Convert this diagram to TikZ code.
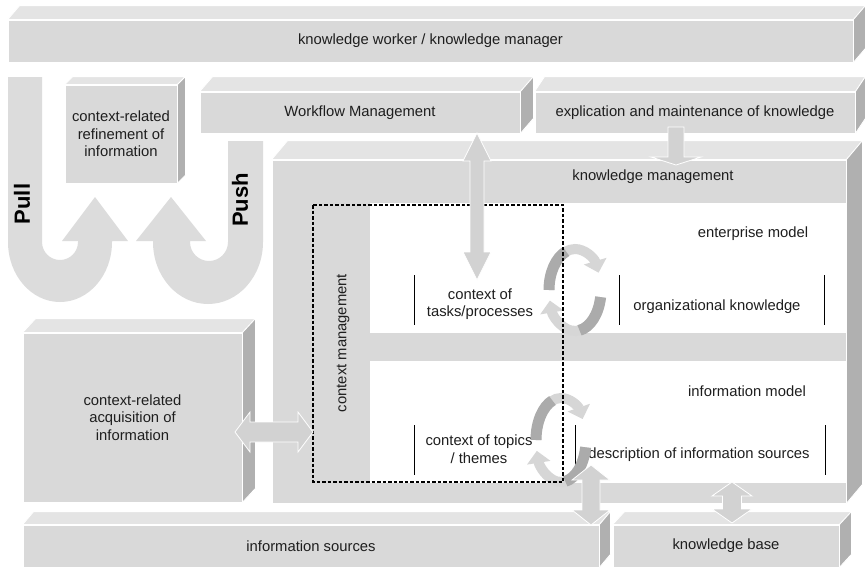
\documentclass[tikz,border=0pt]{standalone}
\usepackage{fontspec}
\setmainfont{Liberation Sans}
\usetikzlibrary{calc,arrows.meta}

\definecolor{facegray}{HTML}{D9D9D9}
\definecolor{topgray}{HTML}{E4E4E4}
\definecolor{sidegray}{HTML}{B0B0B0}
\definecolor{arrowgray}{HTML}{D2D2D2}
\definecolor{ugray}{HTML}{DCDCDC}
\definecolor{cycdark}{HTML}{ABABAB}
\definecolor{cyclight}{HTML}{D6D6D6}
\definecolor{textgray}{HTML}{1E1E1E}

% top and side face of a block, #1 = front node, #2,#3 = depth
\newcommand{\boxfaces}[3]{%
  \filldraw[topface] (#1.north west) -- ++(#2,-#3) -- ($(#1.north east)+(#2,-#3)$) -- (#1.north east) -- cycle;
  \filldraw[sideface] (#1.north east) -- ++(#2,-#3) -- ($(#1.south east)+(#2,-#3)$) -- (#1.south east) -- cycle;}

% block arrows: #1,#2 = tips, #3 shaft half, #4 head half, #5 head length
\newcommand{\vdblarrow}[5]{%
  \filldraw[blockarrow] let \p1=(#1), \p2=(#2) in
    (\x1,\y1) -- (\x1+#4,\y1-#5) -- (\x1+#3,\y1-#5) -- (\x1+#3,\y2+#5) -- (\x1+#4,\y2+#5)
    -- (\x1,\y2) -- (\x1-#4,\y2+#5) -- (\x1-#3,\y2+#5) -- (\x1-#3,\y1-#5) -- (\x1-#4,\y1-#5) -- cycle;}
\newcommand{\hdblarrow}[5]{%
  \filldraw[blockarrow] let \p1=(#1), \p2=(#2) in
    (\x1,\y1) -- (\x1+#5,\y1+#4) -- (\x1+#5,\y1+#3) -- (\x2-#5,\y1+#3) -- (\x2-#5,\y1+#4)
    -- (\x2,\y1) -- (\x2-#5,\y1-#4) -- (\x2-#5,\y1-#3) -- (\x1+#5,\y1-#3) -- (\x1+#5,\y1-#4) -- cycle;}
\newcommand{\vdownarrow}[5]{%
  \filldraw[blockarrow] let \p1=(#1), \p2=(#2) in
    (\x1-#3,\y1) -- (\x1+#3,\y1) -- (\x1+#3,\y2+#5) -- (\x1+#4,\y2+#5) -- (\x1,\y2)
    -- (\x1-#4,\y2+#5) -- (\x1-#3,\y2+#5) -- cycle;}

\begin{document}
\begin{tikzpicture}[x=1pt,y=-1pt,
  every node/.style={font=\fontsize{14.8}{17.5}\selectfont},
  frontface/.style={fill=facegray,draw=white,line width=0.8pt,inner sep=0pt,text=textgray,align=center},
  topface/.style={fill=topgray,draw=white,line width=0.8pt},
  sideface/.style={fill=sidegray,draw=white,line width=0.8pt},
  cutout/.style={fill=white,inner sep=0pt},
  txt/.style={text=textgray,align=center,inner sep=0pt},
  bigtxt/.style={text=black,inner sep=0pt,rotate=90,font=\fontsize{22}{26}\selectfont\bfseries},
  tagbar/.style={line width=1pt,black},
  blockarrow/.style={fill=arrowgray,draw=white,line width=0.8pt},
  uarrow/.style={fill=ugray},
  cycback/.style={draw=cyclight,line width=10pt,-{Triangle[width=23pt,length=12pt]}},
  cycfront/.style={draw=cycdark,line width=11pt}]
\useasboundingbox (0,0) rectangle (865,568);
\fill[white] (0,0) rectangle (865,568);

% pull / push
\fill[uarrow] (8,77) -- (8,242) arc[start angle=180,end angle=0,x radius=52,y radius=60]
  -- (112,241) -- (128,241) -- (95,197) -- (62,241) -- (78,241) -- (78,242)
  arc[start angle=0,end angle=180,radius=18] -- (42,77) -- cycle;
\fill[uarrow] (263,141) -- (263,242) arc[start angle=0,end angle=180,x radius=55,y radius=62]
  -- (153,241) -- (136,241) -- (171,197) -- (206,241) -- (190,241) -- (190,242)
  arc[start angle=180,end angle=0,radius=19] -- (228,141) -- cycle;
\node[bigtxt] (pull) at (22,204) {Pull};
\node[bigtxt] (push) at (240,200) {Push};

% blocks
\node[frontface,minimum width=845pt,minimum height=42pt] (worker) at (430.5,41) {knowledge worker / knowledge manager};
\boxfaces{worker}{12}{14}
\node[frontface,minimum width=112pt,minimum height=98pt] (refine) at (121,134) {context-related\\refinement of\\information};
\boxfaces{refine}{8}{8}
\node[frontface,minimum width=320pt,minimum height=41pt] (wf) at (360,112.5) {Workflow Management};
\boxfaces{wf}{13}{15}
\node[frontface,minimum width=320pt,minimum height=41pt] (expl) at (695,112.5) {explication and maintenance of knowledge};
\boxfaces{expl}{10}{15}
\node[frontface,minimum width=574pt,minimum height=343pt] (km) at (559,331.5) {};
\boxfaces{km}{16}{19}
\node[cutout,minimum width=476pt,minimum height=130pt] (entm) at (608,268) {};
\node[cutout,minimum width=476pt,minimum height=122pt] (infm) at (608,422) {};
\node[frontface,minimum width=219pt,minimum height=169pt] (acq) at (132.5,417.5) {context-related\\acquisition of\\information};
\boxfaces{acq}{13}{14}
\node[frontface,minimum width=576pt,minimum height=42pt] (src) at (311,546) {information sources};
\boxfaces{src}{11}{13}
\node[frontface,minimum width=226pt,minimum height=42pt] (kb) at (726,546) {knowledge base};
\boxfaces{kb}{12}{13}

% texts inside knowledge management
\node[txt] (kmtxt) at (653,177) {knowledge management};
\node[txt] (enttxt) at (753,234) {enterprise model};
\node[txt] (orgk) at (717,307) {organizational knowledge};
\node[txt] (tasks) at (480,304) {context of\\tasks/processes};
\node[txt] (inftxt) at (747,391) {information model};
\node[txt] (descr) at (699,455) {description of information sources};
\node[txt] (topics) at (479,449) {context of topics\\/ themes};
\node[txt,rotate=90] (ctxm) at (343,343) {context management};
\draw[tagbar] (414,275) -- (414,325);
\draw[tagbar] (619,275) -- (619,325);
\draw[tagbar] (824,275) -- (824,325);
\draw[tagbar] (414,425) -- (414,475);
\draw[tagbar] (575,425) -- (575,475);
\draw[tagbar] (825,425) -- (825,475);

% cycles
\coordinate (cyc1) at (575,290);
\draw[cycback] (549,290) arc[start angle=180,end angle=335,x radius=26,y radius=41];
\draw[cycback] (600.6,297.1) arc[start angle=10,end angle=165,x radius=26,y radius=41];
\draw[cycfront] (549,290) arc[start angle=180,end angle=250,x radius=26,y radius=41];
\draw[cycfront] (600.6,297.1) arc[start angle=10,end angle=80,x radius=26,y radius=41];
\coordinate (cyc2) at (561,440);
\draw[cycback] (536,440) arc[start angle=180,end angle=330,x radius=25,y radius=42];
\draw[cycback] (585.6,447.3) arc[start angle=10,end angle=165,x radius=25,y radius=42];
\draw[cycfront] (536,440) arc[start angle=180,end angle=250,x radius=25,y radius=42];
\draw[cycfront] (585.6,447.3) arc[start angle=10,end angle=80,x radius=25,y radius=42];

% context management frame
\draw[line width=1.4pt,dash pattern=on 3.5pt off 2pt] (313,205) rectangle (563,482);

% block arrows
\coordinate (wfA) at (477,133);
\coordinate (tasksA) at (477,280);
\coordinate (explA) at (676,127);
\coordinate (kmA) at (676,165);
\coordinate (acqA) at (235,432);
\coordinate (ctxA) at (313,432);
\coordinate (kmB) at (591,465);
\coordinate (srcA) at (591,525);
\coordinate (kmC) at (732,482);
\coordinate (kbA) at (732,523);
\vdblarrow{wfA}{tasksA}{7pt}{14pt}{28pt}
\vdownarrow{explA}{kmA}{8pt}{25pt}{8pt}
\hdblarrow{acqA}{ctxA}{10pt}{20pt}{15pt}
\vdblarrow{kmB}{srcA}{9pt}{19pt}{15pt}
\vdblarrow{kmC}{kbA}{9.5pt}{20pt}{14pt}
\end{tikzpicture}
\end{document}
